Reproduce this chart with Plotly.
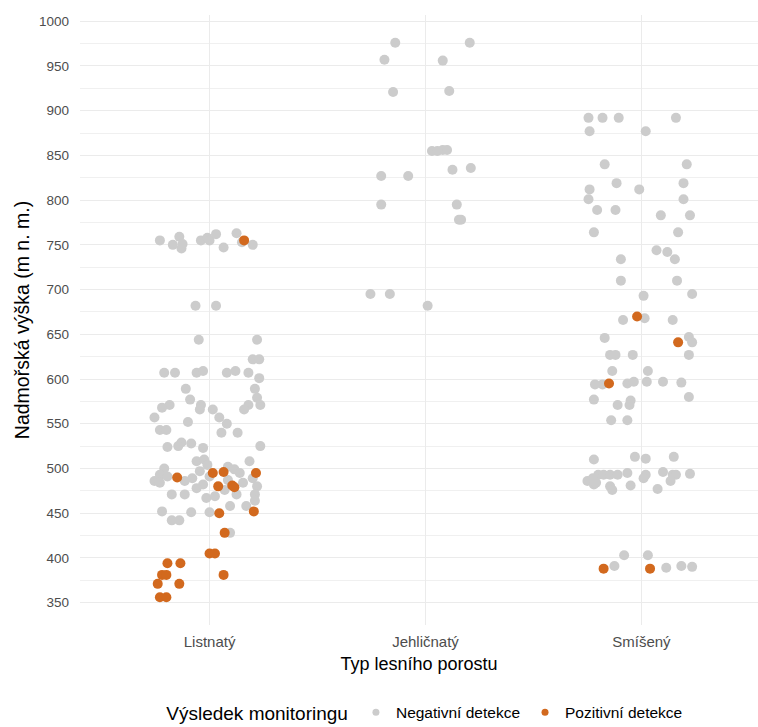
import plotly.graph_objects as go

# Categories of forest stand
typy = ["Listnatý", "Jehličnatý", "Smíšený"]

# Elevation (m n. m.), monitoring result (1 = positive) and horizontal jitter per point
listnaty_vyska = [755, 759, 750, 751, 746, 755, 758, 755, 762, 747, 763, 753, 750, 755,
                  682, 682, 644, 644, 622, 622,
                  607, 607, 607, 609, 607, 609, 607, 601,
                  589, 589, 577, 579, 571, 568, 571, 566, 566, 571, 566, 571,
                  557, 557, 550, 552, 543, 543, 540, 540,
                  529, 528, 525, 524, 523, 525,
                  500, 493, 486, 484, 491, 471, 471, 486, 489, 508, 510, 504, 497, 491, 482, 478,
                  467, 469, 502, 499, 495, 484, 508, 489, 480, 471, 487, 471, 476, 458, 458,
                  428, 452, 442, 442, 451, 451, 464,
                  490, 495, 496, 480, 481, 479, 495, 450, 452, 428, 405, 405,
                  394, 394, 381, 381, 381, 371, 371, 356, 356]
listnaty_vysledek = [0] * 13 + [1] + [0] * 78 + [1] * 21
listnaty_posun = [-0.23, -0.14, -0.17, -0.125, -0.13, -0.04, -0.01, 0.0, 0.03, 0.065, 0.125, 0.15, 0.2, 0.16,
                  -0.065, 0.03, -0.05, 0.22, 0.2, 0.23,
                  -0.21, -0.16, -0.06, -0.03, 0.08, 0.12, 0.18, 0.23,
                  -0.11, 0.21, -0.09, 0.22, -0.185, -0.22, -0.04, -0.045, 0.015, 0.18, 0.16, 0.235,
                  -0.255, 0.045, 0.08, -0.1, -0.23, -0.2, 0.055, 0.13,
                  -0.13, -0.085, -0.145, -0.195, -0.03, 0.235,
                  -0.21, -0.23, -0.255, -0.23, -0.195, -0.175, -0.115, -0.115, -0.08, -0.06, -0.025, -0.01, -0.045, 0.0, -0.03, -0.06,
                  -0.015, 0.025, 0.085, 0.115, 0.14, 0.155, 0.185, 0.2, 0.22, 0.21, 0.085, 0.125, 0.07, 0.17, 0.095,
                  0.095, -0.22, -0.175, -0.14, -0.085, 0.0, 0.21,
                  -0.15, 0.015, 0.065, 0.04, 0.105, 0.115, 0.215, 0.045, 0.205, 0.07, 0.0, 0.025,
                  -0.195, -0.135, -0.22, -0.2, 0.065, -0.24, -0.14, -0.23, -0.2]

jehlicnaty_vyska = [976, 976, 957, 956, 921, 922, 855, 855, 856, 856, 834, 836,
                    827, 827, 795, 795, 778, 778, 695, 695, 682]
jehlicnaty_vysledek = [0] * 21
jehlicnaty_posun = [-0.14, 0.205, -0.19, 0.08, -0.15, 0.11, 0.03, 0.055, 0.08, 0.1, 0.125, 0.21,
                    -0.205, -0.08, -0.205, 0.145, 0.155, 0.165, -0.255, -0.165, 0.01]

smiseny_vyska = [892, 892, 892, 892, 877, 877, 840, 840, 819, 819, 812, 812, 801, 801, 789, 789,
                 783, 783, 764, 764, 744, 742, 734, 734, 710, 710, 693, 695,
                 668, 666, 666, 646, 647, 641,
                 627, 627, 627, 627, 609, 609, 594, 594, 595, 597, 597, 597, 596, 580, 577, 571, 576, 571, 554, 554,
                 510, 513, 511, 513, 494, 493, 493, 493, 493, 495, 493, 489, 496, 493, 493, 486,
                 486, 489, 482, 480, 476, 481, 477, 484,
                 403, 403, 391, 389, 391, 390,
                 670, 641, 595, 388, 388]
smiseny_vysledek = [0] * 84 + [1] * 5
smiseny_posun = [-0.245, -0.18, -0.105, 0.16, -0.24, 0.02, -0.17, 0.21, -0.115, 0.195, -0.24, -0.01, -0.245, 0.195, -0.205, -0.12,
                 0.09, 0.225, -0.22, 0.17, 0.07, 0.12, 0.155, -0.095, -0.095, 0.165, 0.01, 0.235,
                 0.015, -0.085, 0.145, -0.17, 0.22, 0.235,
                 -0.145, -0.12, -0.04, 0.22, -0.135, 0.03, -0.215, -0.18, -0.065, -0.035, 0.025, 0.1, 0.185, 0.22, -0.22, -0.11, -0.05, -0.055, -0.14, -0.065,
                 -0.22, -0.03, 0.02, 0.15, 0.225, -0.2, -0.175, -0.145, -0.11, -0.065, 0.02, 0.01, 0.1, 0.145, 0.16, 0.135,
                 -0.25, -0.225, -0.22, -0.145, -0.135, -0.05, 0.075, -0.21,
                 -0.08, 0.03, -0.125, 0.115, 0.185, 0.235,
                 -0.02, 0.17, -0.15, -0.175, 0.04]

vysledky = ["Negativní detekce", "Pozitivní detekce"]
barvy = ["#CCCCCC", "#D2691E"]

skupiny = [(listnaty_vyska, listnaty_vysledek, listnaty_posun),
           (jehlicnaty_vyska, jehlicnaty_vysledek, jehlicnaty_posun),
           (smiseny_vyska, smiseny_vysledek, smiseny_posun)]

fig = go.Figure()
for kod, (nazev, barva) in enumerate(zip(vysledky, barvy)):
    xs, ys = [], []
    for i, (vyska, vysledek, posun) in enumerate(skupiny):
        for v, r, p in zip(vyska, vysledek, posun):
            if r == kod:
                xs.append(i + p)
                ys.append(v)
    fig.add_trace(go.Scatter(
        x=xs, y=ys, mode="markers", name=nazev, showlegend=False,
        legendgroup=nazev,
        marker=dict(color=barva, size=10, line=dict(width=0)),
        hoverinfo="y",
    ))
    # small key symbol for the legend
    fig.add_trace(go.Scatter(
        x=[None], y=[None], mode="markers", name=nazev, legendgroup=nazev,
        marker=dict(color=barva, size=7, line=dict(width=0)),
    ))

grid = "#EBEBEB"
fig.update_layout(
    width=758, height=727,
    margin=dict(l=80, r=0, t=15, b=102, autoexpand=False),
    plot_bgcolor="white", paper_bgcolor="white",
    font=dict(family="Liberation Sans, Arial, sans-serif", color="#000000"),
    xaxis=dict(
        range=[-0.6, 2.54], tickvals=[0, 1, 2], ticktext=typy,
        showgrid=True, gridcolor=grid, gridwidth=1.1, zeroline=False,
        showline=False, ticks="", tickfont=dict(size=15, color="#4D4D4D"),
        ticklabelstandoff=6, automargin=False,
        title=dict(text="Typ lesního porostu", font=dict(size=18, color="#000000"), standoff=8),
    ),
    yaxis=dict(
        range=[325, 1007], tickvals=list(range(350, 1001, 50)),
        showgrid=True, gridcolor=grid, gridwidth=1.1, zeroline=False,
        showline=False, ticks="", tickfont=dict(size=13.5, color="#4D4D4D"),
        ticklabelstandoff=10, automargin=False,
        minor=dict(tickvals=list(range(325, 1001, 50)), showgrid=True, gridcolor="#F0F0F0", gridwidth=0.8),
        title=dict(text="Nadmořská výška (m n. m.)", font=dict(size=19.5, color="#000000"), standoff=4),
    ),
    legend=dict(
        orientation="h", x=0.51, xanchor="center", xref="paper",
        y=0.019, yanchor="middle", yref="container",
        title=dict(text="Výsledek monitoringu", font=dict(size=19, color="#000000"), side="left"),
        font=dict(size=15.5, color="#000000"), itemwidth=30,
    ),
)

fig.write_html("out.html")
